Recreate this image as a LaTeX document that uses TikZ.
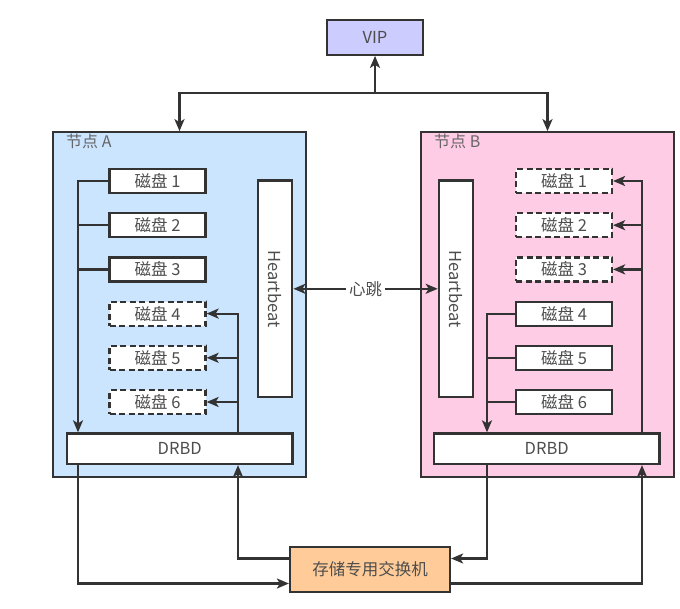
\documentclass[tikz,border=0pt]{standalone}
\usepackage{fontspec}
\setmainfont{Noto Sans CJK SC}
\usepackage{tikz}
\usetikzlibrary{matrix}
\usetikzlibrary{arrows.meta}
\definecolor{linegray}{HTML}{333333}
\definecolor{textgray}{HTML}{4D4D4D}
\definecolor{labelgray}{HTML}{666666}
\definecolor{blueA}{HTML}{CCE5FF}
\definecolor{pinkB}{HTML}{FFCCE6}
\definecolor{vipfill}{HTML}{CCCCFF}
\definecolor{swfill}{HTML}{FFCC99}
\begin{document}
\begin{tikzpicture}[x=1pt,y=-1pt,>={Stealth[length=12pt,width=10pt,inset=3pt]},
line/.style={draw=linegray,line width=2.2pt},
box/.style={draw=linegray,line width=2.2pt,fill=white,text=textgray,inner sep=0pt,
  font=\fontsize{16.5}{19}\selectfont},
dashbox/.style={dash pattern=on 6pt off 3.5pt},
nodebox/.style={draw=linegray,line width=2.2pt,minimum width=252.5pt,minimum height=344.5pt},
hbbox/.style={box,rotate=-90,minimum width=216.5pt,minimum height=34pt},
drbdbox/.style={box,minimum width=225.5pt,minimum height=30.5pt},
nodelabel/.style={text=labelgray,anchor=west,inner sep=0pt,font=\fontsize{16}{18}\selectfont}
]
\useasboundingbox (0,0) rectangle (680,608);
\node (vip) [box,fill=vipfill,minimum width=96pt,minimum height=34.5pt] at (375,37.5) {VIP};
\node (nodeA) [nodebox,fill=blueA] at (179.5,304.5) {};
\node (nodeB) [nodebox,fill=pinkB] at (547.5,304.5) {};
\node (labA) [nodelabel] at (66,141) {节点 A};
\node (labB) [nodelabel] at (434,141) {节点 B};
\matrix (diskA) [%
matrix of nodes,
nodes={box,minimum width=96pt,minimum height=24pt},
row sep=18pt,
inner sep=0pt,
row 4/.style={nodes={dashbox}},
row 5/.style={nodes={dashbox}},
row 6/.style={nodes={dashbox}}
] at (157.5,291.5)
{
	磁盘 1 \\
	磁盘 2 \\
	磁盘 3 \\
	磁盘 4 \\
	磁盘 5 \\
	磁盘 6 \\
};
\matrix (diskB) [%
matrix of nodes,
nodes={box,minimum width=96pt,minimum height=24pt},
row sep=18pt,
inner sep=0pt,
row 1/.style={nodes={dashbox}},
row 2/.style={nodes={dashbox}},
row 3/.style={nodes={dashbox}}
] at (564,291.5)
{
	磁盘 1 \\
	磁盘 2 \\
	磁盘 3 \\
	磁盘 4 \\
	磁盘 5 \\
	磁盘 6 \\
};
\node (hbA) [hbbox] at (275.3,288.8) {Heartbeat};
\node (hbB) [hbbox] at (455.8,288.8) {Heartbeat};
\node (drbdA) [drbdbox] at (179.7,448.7) {DRBD};
\node (drbdB) [drbdbox] at (546.7,448.7) {DRBD};
\node (switch) [box,fill=swfill,minimum width=160pt,minimum height=45pt] at (370,569.5) {存储专用交换机};
\coordinate (bus) at (375,93);
\coordinate (lbA) at (78,0);
\coordinate (rbA) at (238,0);
\coordinate (lbB) at (487,0);
\coordinate (rbB) at (642,0);
\coordinate (upper) at (0,558.5);
\coordinate (lower) at (0,583.5);
\draw[line,->] (bus) -- (vip);
\draw[line,->] (bus) -| (nodeA.north);
\draw[line,->] (bus) -| (nodeB.north);
\draw[line,<->] (hbA.north) -- node [box,draw=none,inner sep=3pt] {心跳} (hbB.south);
\draw[line,->] (diskA-1-1.west) -| (drbdA.north -| lbA);
\draw[line] (diskA-2-1.west) -- (diskA-2-1.west -| lbA);
\draw[line] (diskA-3-1.west) -- (diskA-3-1.west -| lbA);
\draw[line,->] (drbdA.north -| rbA) |- (diskA-4-1.east);
\draw[line,->] (diskA-5-1.east -| rbA) -- (diskA-5-1.east);
\draw[line,->] (diskA-6-1.east -| rbA) -- (diskA-6-1.east);
\draw[line,->] (diskB-4-1.west) -| (drbdB.north -| lbB);
\draw[line] (diskB-5-1.west) -- (diskB-5-1.west -| lbB);
\draw[line] (diskB-6-1.west) -- (diskB-6-1.west -| lbB);
\draw[line,->] (drbdB.north -| rbB) |- (diskB-1-1.east);
\draw[line,->] (diskB-2-1.east -| rbB) -- (diskB-2-1.east);
\draw[line,->] (diskB-3-1.east -| rbB) -- (diskB-3-1.east);
\draw[line,->] (drbdA.south -| lbA) |- (switch.west |- lower);
\draw[line,->] (switch.west |- upper) -| (drbdA.south -| rbA);
\draw[line,->] (drbdB.south -| lbB) |- (switch.east |- upper);
\draw[line,->] (switch.east |- lower) -| (drbdB.south -| rbB);
\end{tikzpicture}
\end{document}
